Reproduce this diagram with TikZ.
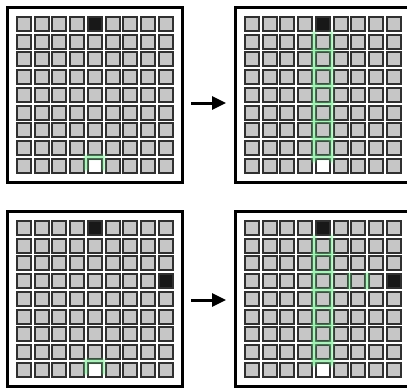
\documentclass[tikz,border=0pt]{standalone}
\usetikzlibrary{arrows.meta}
\definecolor{cellfill}{HTML}{C6C6C6}
\definecolor{celledge}{HTML}{303030}
\definecolor{glowc}{HTML}{6EE88A}
\definecolor{blackcell}{HTML}{181818}
\tikzset{
  cell/.style={fill=cellfill, draw=celledge, line width=2pt},
  darkcell/.style={fill=blackcell, draw=celledge, line width=2pt},
  whitecell/.style={fill=white, draw=celledge, line width=2pt},
  frame/.style={draw=black, line width=3pt},
  glowA/.style={draw=glowc, line width=8pt, opacity=0.07, line cap=round, line join=round},
  glowB/.style={draw=glowc, line width=5.5pt, opacity=0.12, line cap=round, line join=round},
  glowC/.style={draw=glowc, line width=3.5pt, opacity=0.22, line cap=round, line join=round},
  glowD/.style={draw=glowc!60!white, line width=1.6pt, opacity=0.75, line cap=round, line join=round},
  arr/.style={draw=black, line width=3pt, -{Triangle[length=14pt,width=13pt]}},
  declare function={gx(\i)=16+17.7*\i-0.85; gy(\j)=16+17.7*\j-0.85; cx(\i)=17+17.7*\i;},
}
\newcommand{\gridpanel}[2]{%
  \draw[frame] (#1+7.5,#2+7.5) rectangle (#1+182.5,#2+182.5);
  \foreach \i in {0,...,8}{\foreach \j in {0,...,8}{
    \draw[cell] ({#1+cx(\i)},{#2+cx(\j)}) rectangle ++(14,14);
  }}
  \draw[darkcell] ({#1+cx(4)},{#2+cx(0)}) rectangle ++(14,14);
  \draw[whitecell] ({#1+cx(4)},{#2+cx(8)}) rectangle ++(14,14);
}
\newcommand{\glowpath}[1]{\draw[glowA] #1; \draw[glowB] #1; \draw[glowC] #1; \draw[glowD] #1;}
\newcommand{\columnglow}[2]{%
  \glowpath{({#1+gx(4)},{#2+gy(1)}) -- ({#1+gx(4)},{#2+gy(8)+4})}
  \glowpath{({#1+gx(5)},{#2+gy(1)}) -- ({#1+gx(5)},{#2+gy(8)+4})}
  \foreach \j in {2,...,8}{\glowpath{({#1+gx(4)},{#2+gy(\j)}) -- ({#1+gx(5)},{#2+gy(\j)})}}
}
\begin{document}
\begin{tikzpicture}[x=1pt,y=-1pt]
\useasboundingbox (0,0) rectangle (407,388);
% top left
\gridpanel{0}{0}
\glowpath{({gx(4)},{gy(8)+12}) -- ({gx(4)},{gy(8)}) -- ({gx(5)},{gy(8)}) -- ({gx(5)},{gy(8)+12})}
% top right
\gridpanel{228}{0}
\columnglow{228}{0}
% bottom left
\gridpanel{0}{204}
\draw[darkcell] ({cx(8)},{204+cx(3)}) rectangle ++(14,14);
\glowpath{({gx(4)},{204+gy(8)+12}) -- ({gx(4)},{204+gy(8)}) -- ({gx(5)},{204+gy(8)}) -- ({gx(5)},{204+gy(8)+12})}
% bottom right
\gridpanel{228}{204}
\draw[darkcell] ({228+cx(8)},{204+cx(3)}) rectangle ++(14,14);
\columnglow{228}{204}
\glowpath{({228+gx(6)},{204+gy(3)+2}) -- ({228+gx(6)},{204+gy(4)-2})}
\glowpath{({228+gx(7)},{204+gy(3)+2}) -- ({228+gx(7)},{204+gy(4)-2})}
% arrows
\coordinate (a1s) at (191,103);
\coordinate (a1e) at (226,103);
\coordinate (a2s) at (191,300);
\coordinate (a2e) at (226,300);
\draw[arr] (a1s) -- (a1e);
\draw[arr] (a2s) -- (a2e);
\end{tikzpicture}
\end{document}
